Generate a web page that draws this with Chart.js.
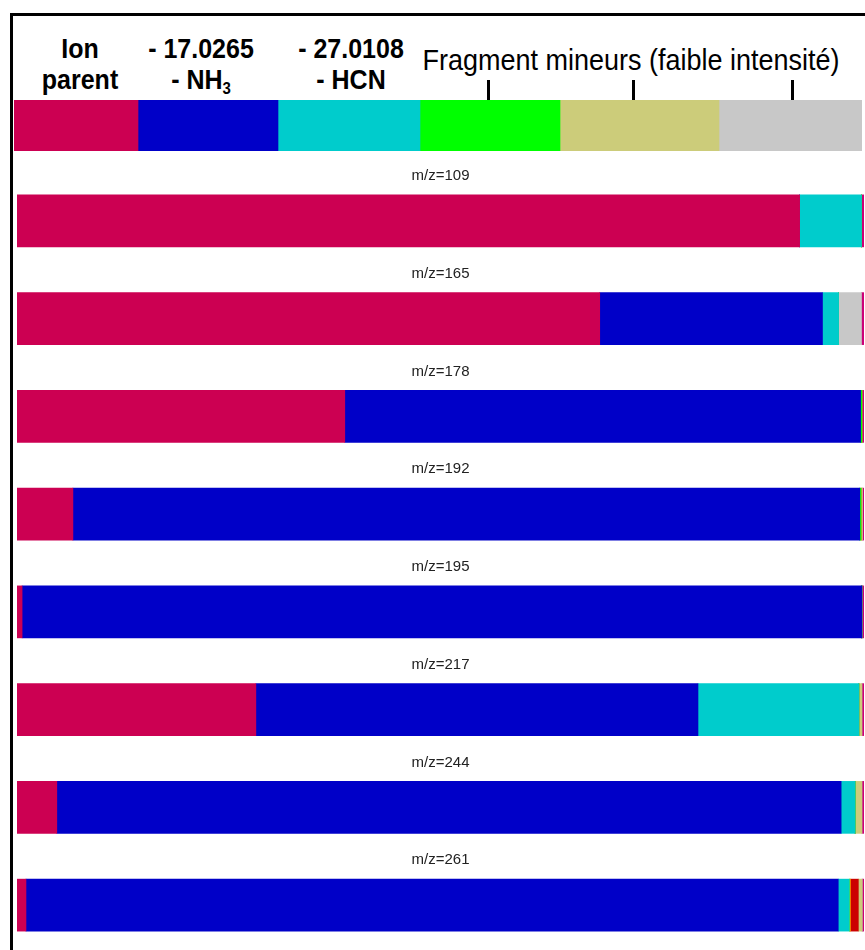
<!DOCTYPE html>
<html>
<head>
<meta charset="utf-8">
<script src="https://cdn.jsdelivr.net/npm/chart.js@4.4.1/dist/chart.umd.min.js"></script>
<style>
  html, body { margin:0; padding:0; background:#fff; width:865px; height:950px; overflow:hidden; }
  body { position:relative; font-family:"Liberation Sans", Arial, sans-serif; }
  .frame { position:absolute; left:10px; top:13px; width:900px; height:1000px; border-left:3px solid #000; border-top:3px solid #000; }
  .hdr { position:absolute; font-weight:bold; font-size:25px; line-height:29px; text-align:center; color:#000; width:160px; transform:scaleY(1.08); }
  .hdr sub { font-size:15px; vertical-align:-5px; line-height:0; }
  .frag { position:absolute; font-size:27px; color:#000; left:400px; width:462px; text-align:center; top:45px; transform:scaleY(1.06); }
  .tick { position:absolute; width:3px; height:22px; background:#000; top:80px; }
  #legendWrap { position:absolute; left:0; top:100px; width:865px; height:51px; }
  #chartWrap { position:absolute; left:0; top:120px; width:865px; height:834px; }
</style>
</head>
<body>
<div class="frame"></div>
<div class="hdr" style="left:0px; top:35px;">Ion<br>parent</div>
<div class="hdr" style="left:121px; top:35px;">- 17.0265<br>- NH<sub>3</sub></div>
<div class="hdr" style="left:271px; top:35px;">- 27.0108<br>- HCN</div>
<div class="frag">Fragment mineurs (faible intensité)</div>
<div class="tick" style="left:487px;"></div>
<div class="tick" style="left:632px;"></div>
<div class="tick" style="left:791px;"></div>
<div id="legendWrap"><canvas id="legend"></canvas></div>
<div id="chartWrap"><canvas id="chart"></canvas></div>
<script>
// ---- Data ----
const categories = ["m/z=109", "m/z=165", "m/z=178", "m/z=192", "m/z=195", "m/z=217", "m/z=244", "m/z=261"];
const seriesNames = ["Ion parent", "- NH3", "- HCN", "mineur vert", "mineur jaune", "mineur rouge", "mineur kaki", "mineur gris", "mineur magenta"];
const ionParent   = [92.4, 68.8, 38.7,  6.6,  0.6,  28.2,  4.7,  1.06];
const lossNH3     = [0,    26.3, 60.9, 92.9, 99.15, 52.2, 92.6, 95.9];
const lossHCN     = [7.3,   1.9,  0,    0,    0,    19.0,  1.65, 1.3];
const minorGreen  = [0,     0,    0.15, 0.15, 0,     0,    0,    0];
const minorYellow = [0,     0,    0,    0,    0,     0,    0,    0.12];
const minorRed    = [0,     0,    0,    0,    0,     0,    0,    0.95];
const minorKhaki  = [0,     0,    0,    0.15, 0,     0.35, 0.8,  0.45];
const minorGray   = [0,     2.7,  0,    0,    0,     0,    0,    0];
const minorMagenta= [0.3,   0.3,  0.25, 0.2,  0.25,  0.25, 0.25, 0.22];

const legendLabels = ["Ion parent", "- NH3", "- HCN", "mineur 1", "mineur 2", "mineur 3"];
const legendShares = [124, 140, 142, 140, 159, 143];

// ---- Styles ----
const colors = ["#CC0052", "#0000C8", "#00CCCC", "#00FF00", "#FFCC00", "#CC0000", "#CCCC7A", "#C8C8C8", "#CC0077"];
const legendColors = ["#CC0052", "#0000C8", "#00CCCC", "#00FF00", "#CCCC7A", "#C8C8C8"];

const seriesData = [ionParent, lossNH3, lossHCN, minorGreen, minorYellow, minorRed, minorKhaki, minorGray, minorMagenta];

// Main chart
const labelPlugin = {
  id: 'catLabels',
  afterDatasetsDraw(chart) {
    const ctx = chart.ctx;
    const ys = chart.scales.y;
    const xa = chart.chartArea;
    ctx.save();
    ctx.font = '15px "Liberation Sans", Arial, sans-serif';
    ctx.fillStyle = '#222';
    ctx.textAlign = 'center';
    ctx.textBaseline = 'middle';
    chart.data.labels.forEach((lab, i) => {
      ctx.fillText(lab, (xa.left + xa.right) / 2, ys.getPixelForValue(i) - 45);
    });
    ctx.restore();
  }
};

new Chart(document.getElementById('chart'), {
  type: 'bar',
  data: {
    labels: categories,
    datasets: seriesData.map((d, i) => ({
      label: seriesNames[i],
      data: d,
      backgroundColor: colors[i],
      borderWidth: 0,
      barThickness: 52
    }))
  },
  options: {
    indexAxis: 'y',
    responsive: true,
    maintainAspectRatio: false,
    animation: false,
    layout: { padding: { left: 17, right: 1, top: 52, bottom: 0 } },
    plugins: { legend: { display: false }, tooltip: { enabled: false } },
    scales: {
      x: { stacked: true, min: 0, max: 100, display: false },
      y: { stacked: true, display: false }
    }
  },
  plugins: [labelPlugin]
});

// Legend strip
new Chart(document.getElementById('legend'), {
  type: 'bar',
  data: {
    labels: ["legend"],
    datasets: legendShares.map((v, i) => ({
      label: legendLabels[i],
      data: [v],
      backgroundColor: legendColors[i],
      borderWidth: 0,
      barPercentage: 1,
      categoryPercentage: 1
    }))
  },
  options: {
    indexAxis: 'y',
    responsive: true,
    maintainAspectRatio: false,
    animation: false,
    layout: { padding: { left: 14, right: 3, top: 0, bottom: 0 } },
    plugins: { legend: { display: false }, tooltip: { enabled: false } },
    scales: {
      x: { stacked: true, min: 0, max: legendShares.reduce((a, b) => a + b, 0), display: false },
      y: { stacked: true, display: false }
    }
  }
});
</script>
</body>
</html>
